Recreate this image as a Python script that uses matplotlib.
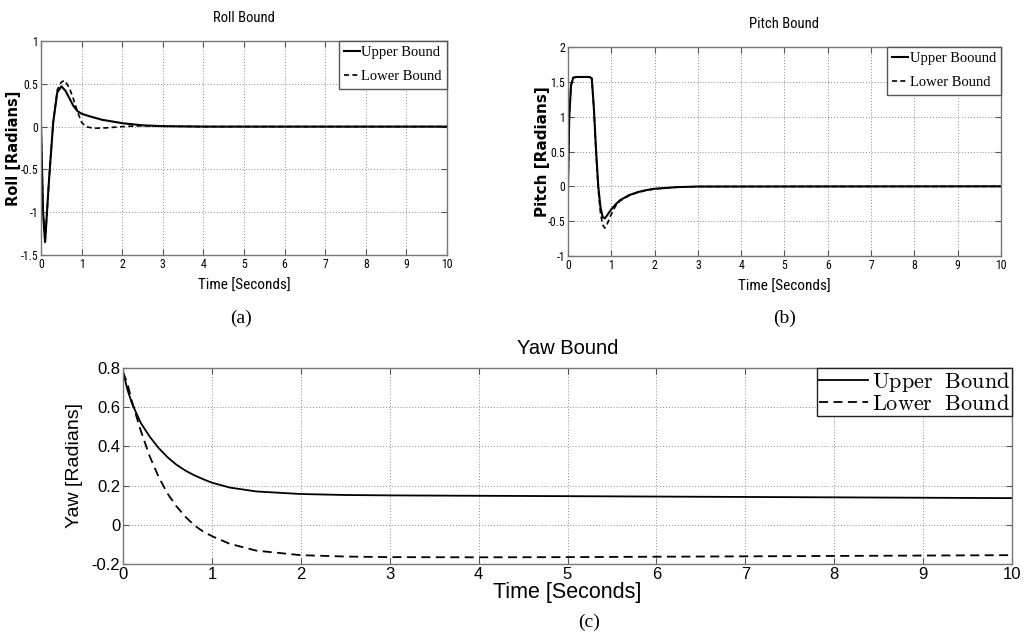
import matplotlib
matplotlib.use("Agg")
import matplotlib.pyplot as plt
from matplotlib import font_manager as fm
import numpy as np

# ---- data ----
roll_t = [0, 0.05, 0.1, 0.2, 0.3, 0.4, 0.5, 0.6, 0.7, 0.8, 0.9, 1.0, 1.2, 1.5, 2.0, 2.5, 3.0, 4.0, 10.0]
roll_upper = [0, -1.0, -1.35, -0.6, 0.05, 0.4, 0.47, 0.42, 0.33, 0.24, 0.18, 0.15, 0.12, 0.08, 0.04, 0.015, 0.005, 0.0, 0.0]
roll_lower_t = [0, 0.05, 0.1, 0.2, 0.3, 0.4, 0.5, 0.58, 0.7, 0.8, 0.9, 1.0, 1.1, 1.3, 1.6, 2.0, 2.5, 3.0, 4.0, 10.0]
roll_lower = [0, -1.0, -1.35, -0.6, 0.05, 0.43, 0.52, 0.54, 0.45, 0.32, 0.17, 0.05, 0.0, -0.02, -0.015, 0.0, 0.01, 0.005, 0.0, 0.0]

pitch_t = [0, 0.03, 0.07, 0.12, 0.2, 0.3, 0.4, 0.5, 0.55, 0.6, 0.65, 0.7, 0.75, 0.8, 0.85, 0.9, 1.0, 1.1, 1.2, 1.4, 1.6, 1.8, 2.0, 2.5, 3.0, 10.0]
pitch_upper = [0, 1.0, 1.45, 1.56, 1.57, 1.57, 1.57, 1.57, 1.55, 1.1, 0.5, 0.0, -0.3, -0.44, -0.46, -0.42, -0.33, -0.26, -0.2, -0.13, -0.085, -0.055, -0.035, -0.012, -0.003, 0.0]
pitch_lower = [0, 1.0, 1.45, 1.56, 1.57, 1.57, 1.57, 1.57, 1.55, 1.1, 0.45, -0.05, -0.38, -0.55, -0.6, -0.55, -0.4, -0.28, -0.21, -0.135, -0.09, -0.058, -0.037, -0.013, -0.003, 0.0]

yaw_t = [0, 0.05, 0.1, 0.2, 0.3, 0.4, 0.5, 0.6, 0.7, 0.8, 0.9, 1.0, 1.2, 1.5, 2.0, 2.5, 3.0, 4.0, 5.0, 6.0, 7.0, 8.0, 9.0, 10.0]
yaw_upper = [0.78, 0.69, 0.62, 0.52, 0.45, 0.392, 0.345, 0.307, 0.277, 0.253, 0.233, 0.215, 0.19, 0.17, 0.157, 0.152, 0.15, 0.148, 0.146, 0.144, 0.142, 0.14, 0.138, 0.136]
yaw_lower = [0.78, 0.72, 0.63, 0.48, 0.35, 0.245, 0.16, 0.095, 0.042, -0.002, -0.034, -0.058, -0.097, -0.132, -0.155, -0.162, -0.165, -0.166, -0.165, -0.163, -0.161, -0.159, -0.157, -0.155]

xticks = list(range(0, 11))
roll_yticks = [1, 0.5, 0, -0.5, -1, -1.5]
pitch_yticks = [2, 1.5, 1, 0.5, 0, -0.5, -1]
yaw_yticks = [0.8, 0.6, 0.4, 0.2, 0, -0.2]

# ---- fonts ----
plt.rcParams["mathtext.fontset"] = "cm"
names = {f.name for f in fm.fontManager.ttflist}
narrow_fp = None
for cand in ["Liberation Sans Narrow", "Roboto Condensed", "Open Sans Condensed", "DejaVu Sans Condensed", "Noto Sans Condensed"]:
    if cand in names:
        narrow_fp = {"family": cand}
        break
if narrow_fp is None:
    for f in fm.fontManager.ttflist:
        st = f.stretch
        if (isinstance(st, str) and "condensed" in st and "semi" not in st and "extra" not in st and "ultra" not in st
                and f.weight in (400, "normal", "regular") and f.style == "normal"
                and any(k in f.name for k in ["DejaVu Sans", "Noto Sans", "Open Sans", "Roboto", "Liberation Sans"])
                and "Mono" not in f.name and "CJK" not in f.name):
            narrow_fp = {"fname": f.fname}
            break
scale = 1.0 if narrow_fp is not None else 0.82
if narrow_fp is None:
    narrow_fp = {"family": "Liberation Sans"}

def nfp(size):
    d = dict(narrow_fp)
    d["size"] = size * scale
    return fm.FontProperties(**d)

serif = "Liberation Serif"
sans = "Liberation Sans"

def fmt(v):
    return "%g" % v

fig = plt.figure(figsize=(10.31, 6.39), dpi=100)

def style(ax, ytk, ylim, fp):
    ax.set_xlim(0, 10)
    ax.set_ylim(*ylim)
    ax.set_xticks(xticks)
    ax.set_yticks(ytk)
    ax.set_xticklabels([fmt(v) for v in xticks], fontproperties=fp)
    ax.set_yticklabels([fmt(v) for v in ytk], fontproperties=fp)
    ax.grid(True, linestyle=(0, (1, 2)), color="#8a8a8a", linewidth=0.7)
    ax.tick_params(direction="in", top=True, right=True, length=4, color="#555555", pad=2)
    for s in ax.spines.values():
        s.set_color("#777777")
        s.set_linewidth(1.0)

W, H = 1031.0, 639.0

def small_legend(ax):
    leg = ax.legend(loc="upper right", prop={"family": serif, "size": 10.5}, handlelength=1.1,
                    handletextpad=0.1, borderpad=0.35, labelspacing=0.75, fancybox=False,
                    framealpha=1, borderaxespad=0)
    leg.get_frame().set_edgecolor("#555555")
    return leg

# (a)
axa = fig.add_axes([0.0398, 0.601, 0.3938, 0.3348])
axa.plot(roll_t, roll_upper, "k-", lw=1.5, label="Upper Bound")
axa.plot(roll_lower_t, roll_lower, "k--", lw=1.2, dashes=(3, 2), label="Lower Bound")
style(axa, roll_yticks, (-1.5, 1), nfp(8.5))
axa.set_title("Roll Bound", fontproperties=nfp(10.5), pad=14)
axa.set_xlabel("Time [Seconds]", fontproperties=nfp(11), labelpad=6)
fig.text(14 / W, 1 - 148 / H, "Roll [Radians]", family="DejaVu Sans", fontweight="bold", fontsize=10.5,
         rotation=90, ha="center", va="center")
small_legend(axa)

# (b)
axb = fig.add_axes([0.5509, 0.5994, 0.42, 0.327])
axb.plot(pitch_t, pitch_upper, "k-", lw=1.5, label="Upper Boound")
axb.plot(pitch_t, pitch_lower, "k--", lw=1.2, dashes=(3, 2), label="Lower Bound")
style(axb, pitch_yticks, (-1, 2), nfp(8.5))
axb.set_title("Pitch Bound", fontproperties=nfp(10.5), pad=14)
axb.set_xlabel("Time [Seconds]", fontproperties=nfp(11), labelpad=6)
fig.text(542 / W, 1 - 152 / H, "Pitch [Radians]", family="DejaVu Sans", fontweight="bold", fontsize=11,
         rotation=90, ha="center", va="center")
small_legend(axb)

# (c)
axc = fig.add_axes([0.1193, 0.1174, 0.8623, 0.3067])
axc.plot(yaw_t, yaw_upper, "k-", lw=1.3, label=r"$\mathrm{Upper\ \ Bound}$")
axc.plot(yaw_t, yaw_lower, "k--", lw=1.3, dashes=(5, 3), label=r"$\mathrm{Lower\ \ Bound}$")
style(axc, yaw_yticks, (-0.2, 0.8), fm.FontProperties(family=sans, size=12))
axc.set_title("Yaw Bound", fontfamily=sans, fontsize=14.5, pad=10)
axc.set_xlabel("Time [Seconds]", fontfamily=sans, fontsize=15.5, labelpad=0)
axc.set_ylabel("Yaw [Radians]", fontfamily=sans, fontsize=14, labelpad=6)
leg = axc.legend(loc="upper right", prop={"size": 16}, handlelength=2.2,
                 handletextpad=0.2, borderpad=0.08, labelspacing=0.0, fancybox=False,
                 framealpha=1, borderaxespad=0)
leg.get_frame().set_edgecolor("#222222")

fig.text(241 / W, 1 - 318 / H, "(a)", family=serif, fontsize=14, ha="center", va="center")
fig.text(785 / W, 1 - 318 / H, "(b)", family=serif, fontsize=14, ha="center", va="center")
fig.text(589 / W, 1 - 622 / H, "(c)", family=serif, fontsize=14, ha="center", va="center")

fig.savefig("out.png", dpi=100)
